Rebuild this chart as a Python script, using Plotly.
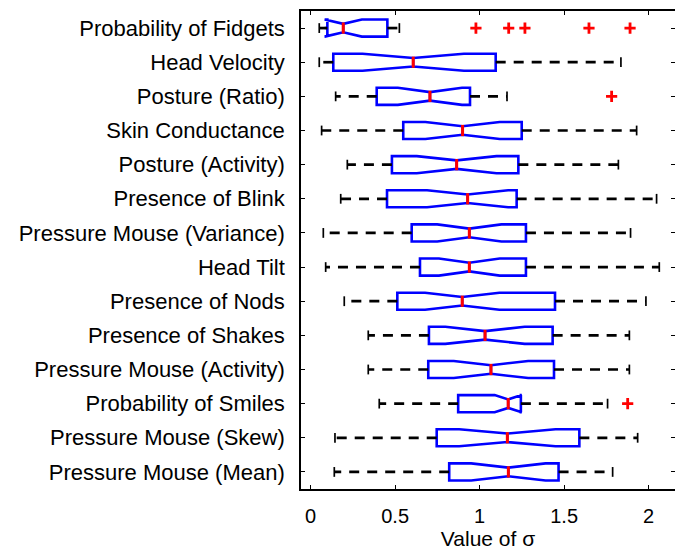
import plotly.graph_objects as go

categories = [
    "Probability of Fidgets", "Head Velocity", "Posture (Ratio)", "Skin Conductance",
    "Posture (Activity)", "Presence of Blink", "Pressure Mouse (Variance)", "Head Tilt",
    "Presence of Nods", "Presence of Shakes", "Pressure Mouse (Activity)",
    "Probability of Smiles", "Pressure Mouse (Skew)", "Pressure Mouse (Mean)",
]
lower_whisker = [0.051, 0.051, 0.148, 0.065, 0.217, 0.178, 0.075, 0.089, 0.199, 0.341, 0.341, 0.406, 0.144, 0.140]
q1_vals       = [0.099, 0.134, 0.391, 0.548, 0.481, 0.452, 0.598, 0.647, 0.513, 0.700, 0.696, 0.873, 0.746, 0.820]
median_vals   = [0.193, 0.607, 0.706, 0.899, 0.864, 0.929, 0.939, 0.939, 0.897, 1.032, 1.067, 1.169, 1.164, 1.170]
q3_vals       = [0.454, 1.095, 0.943, 1.249, 1.229, 1.219, 1.274, 1.274, 1.446, 1.432, 1.440, 1.244, 1.590, 1.467]
upper_whisker = [0.525, 1.836, 1.162, 1.929, 1.821, 2.047, 1.893, 2.063, 1.984, 1.886, 1.886, 1.757, 1.935, 1.787]
notch_span    = [0.110, 0.300, 0.190, 0.220, 0.236, 0.240, 0.190, 0.180, 0.220, 0.235, 0.220, 0.080, 0.285, 0.220]
outliers = {
    "Probability of Fidgets": [0.978, 1.172, 1.268, 1.647, 1.890],
    "Posture (Ratio)": [1.781],
    "Probability of Smiles": [1.876],
}

positions = list(range(1, len(categories) + 1))
FONT = "Liberation Sans, Arial, sans-serif"

fig = go.Figure()

# whiskers (dashed)
wx, wy = [], []
for p, lw, a, b, uw in zip(positions, lower_whisker, q1_vals, q3_vals, upper_whisker):
    wx += [a, lw, None, b, uw, None]
    wy += [p, p, None, p, p, None]
fig.add_trace(go.Scatter(x=wx, y=wy, mode="lines", line=dict(color="black", width=2.7, dash="10px,8px"),
                         hoverinfo="skip", showlegend=False))
# whisker caps
fig.add_trace(go.Scatter(x=lower_whisker + upper_whisker, y=positions + positions, mode="markers",
                         marker=dict(symbol="line-ns", size=7, line=dict(color="black", width=1.7)),
                         hoverinfo="skip", showlegend=False))

# notched boxes
for p, a, m, b, s in zip(positions, q1_vals, median_vals, q3_vals, notch_span):
    fig.add_trace(go.Box(
        orientation="h", y=[p], q1=[a], median=[m], q3=[b], lowerfence=[a], upperfence=[b],
        notched=True, notchspan=[s], notchwidth=0.25, width=0.5, whiskerwidth=0,
        line=dict(color="#0000ff", width=2.6), fillcolor="rgba(0,0,0,0)",
        boxpoints=False, hoverinfo="skip", showlegend=False,
    ))

# medians
fig.add_trace(go.Scatter(x=median_vals, y=positions, mode="markers",
                         marker=dict(symbol="line-ns", size=8, line=dict(color="#ff0000", width=3)),
                         hoverinfo="skip", showlegend=False))

# outliers
ox, oy = [], []
for cat, vals in outliers.items():
    p = positions[categories.index(cat)]
    ox += vals
    oy += [p] * len(vals)
fig.add_trace(go.Scatter(x=ox, y=oy, mode="markers",
                         marker=dict(symbol="cross-thin", size=8, line=dict(color="#ff0000", width=2.8)),
                         hoverinfo="skip", showlegend=False))

# page body adds an 8px offset; the figure is sized to fit the window
fig.update_layout(
    width=675, height=547,
    margin=dict(l=293, r=8, t=3, b=66),
    paper_bgcolor="white", plot_bgcolor="white",
    font=dict(family=FONT, size=20, color="black"),
    showlegend=False,
)
fig.update_xaxes(
    range=[-0.057, 2.156], tickvals=[0, 0.5, 1, 1.5, 2], ticktext=["0", "0.5", "1", "1.5", "2"],
    ticks="inside", ticklen=4, tickwidth=1.3, tickcolor="black",
    showline=True, linecolor="black", linewidth=1.6, mirror="ticks",
    showgrid=False, zeroline=False, ticklabelstandoff=8, automargin=False,
    tickfont=dict(size=20),
    title=dict(text="Value of σ", font=dict(size=21), standoff=4),
)
fig.update_yaxes(
    range=[14.5, 0.5], tickvals=positions, ticktext=categories,
    ticks="inside", ticklen=4, tickwidth=1.3, tickcolor="black",
    showline=True, linecolor="black", linewidth=1.6, mirror="ticks",
    showgrid=False, zeroline=False, ticklabelstandoff=10, automargin=False,
    tickfont=dict(size=22),
)

fig.write_html("out.html")
